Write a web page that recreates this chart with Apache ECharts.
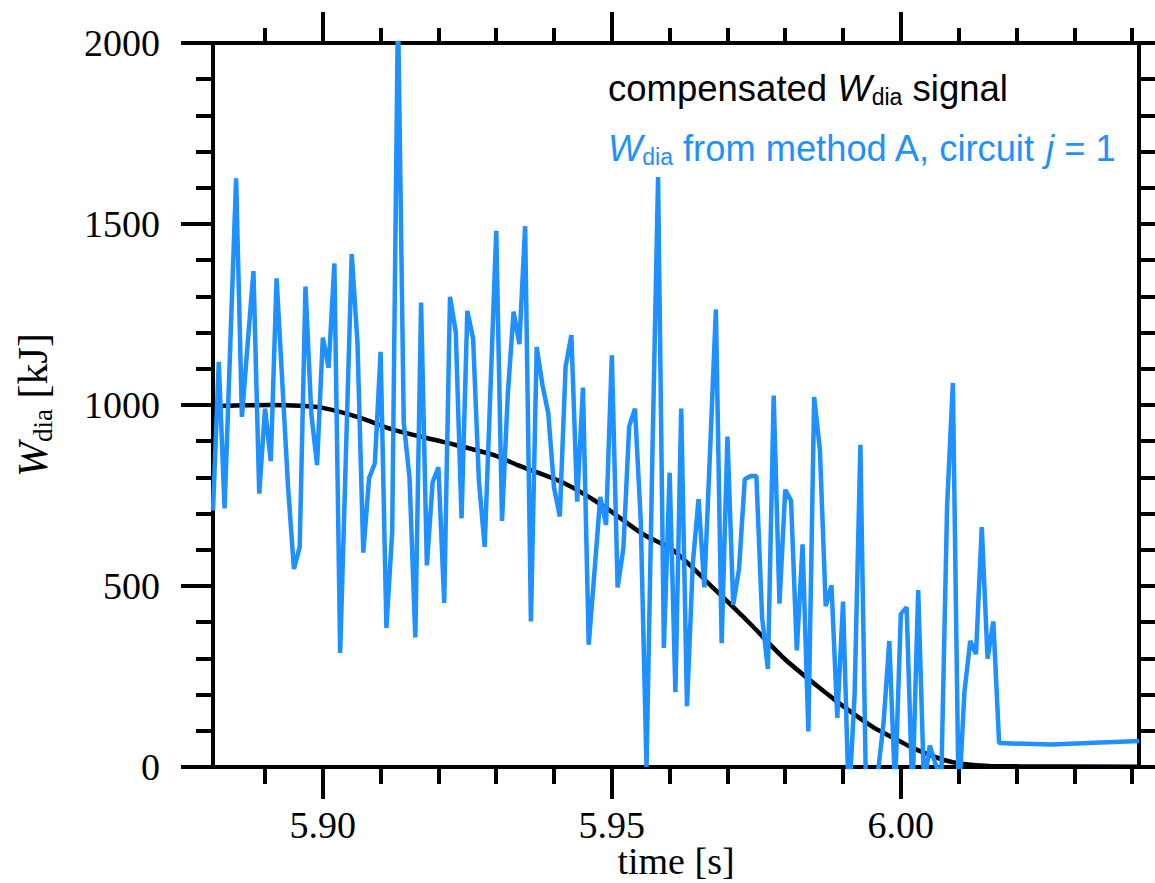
<!DOCTYPE html>
<html>
<head>
<meta charset="utf-8">
<script src="https://cdn.jsdelivr.net/npm/echarts@6/dist/echarts.min.js"></script>
<style>html,body{margin:0;padding:0;background:#fff;overflow:hidden}#c{width:1155px;height:883px}</style>
</head>
<body>
<div id="c"></div>
<script>
// ---- data ----
const xMajorTicks = [5.90, 5.95, 6.00];
const xMinorTicks = [5.89, 5.91, 5.92, 5.93, 5.94, 5.96, 5.97, 5.98, 5.99, 6.01, 6.02, 6.03, 6.04];
const yTicks = [0, 500, 1000, 1500, 2000];
const xRange = [5.881, 6.0412];
const xAxisTitle = 'time [s]';

// W_dia from method A, circuit j = 1 : sampled every 1 ms from 5.881 s
const blueStartTime = 5.881;
const blueStep = 0.001;
const blueValues = [
  708, 1119, 714, 1170, 1626, 967, 1170, 1370, 755, 990,
  845, 1350, 1060, 770, 547, 608, 1327, 977, 834, 1186,
  1103, 1391, 315, 866, 1417, 1170, 592, 798, 839, 1147,
  384, 650, 2100, 952, 798, 358, 1283, 557, 787, 828,
  453, 1299, 1202, 687, 1260, 1183, 791, 608, 1042, 1481,
  680, 1029, 1258, 1168, 1494, 402, 1160, 1055, 977, 772,
  692, 1106, 1193, 733, 1048, 338, 540, 746, 669, 1137,
  496, 605, 941, 990, 682, 0, 849, 1630, 329, 813,
  207, 990, 168, 560, 740, 496, 875, 1264, 342, 913,
  448, 547, 795, 804, 804, 412, 271, 1026, 451, 766,
  736, 322, 615, 98, 1022, 875, 444, 502, 136, 457,
  -100, 200, 890, -100, -80, -20, 120, 348, -60, 423,
  441, -80, 489, -50, 59, 8, -30, 720, 1061, -100,
  207, 348, 312, 663, 299, 402, 66
];
const blueTailTimes = [6.026, 6.0412];
const blueTailValues = [62, 72];

// compensated W_dia signal
const blackTimes = [5.881, 5.886, 5.891, 5.896, 5.900, 5.9064, 5.9121, 5.9208, 5.9295, 5.9337,
  5.9416, 5.9485, 5.9554, 5.9606, 5.9679, 5.9741, 5.9800, 5.9874, 5.9900, 5.9952,
  5.9995, 6.0021, 6.0073, 6.0108, 6.0151, 6.0203, 6.0412];
const blackValues = [997, 999, 1000, 998, 992, 965, 932, 898, 862, 834,
  785, 721, 643, 599, 489, 393, 297, 200, 168, 110,
  74, 52, 20, 8, 3, 2, 1];

// ---- build ----
const blueData = blueValues.map((v, k) => [+(blueStartTime + k * blueStep).toFixed(4), v])
  .concat(blueTailTimes.map((t, i) => [t, blueTailValues[i]]));
const blackData = blackTimes.map((t, i) => [t, blackValues[i]]);

const serif = '"Liberation Serif", "DejaVu Serif", serif';
const sans = '"Liberation Sans", Arial, sans-serif';
const BLUE = '#1E90FF';

function xAxisDef(pos, ticks, len, withLabels, showLine) {
  const a = {
    type: 'value', position: pos, min: xRange[0], max: xRange[1],
    axisLine: { show: showLine, onZero: false, lineStyle: { color: '#000', width: 4 } },
    axisTick: { show: true, inside: false, length: len, customValues: ticks,
      lineStyle: { color: '#000', width: 4 } },
    axisLabel: { show: false },
    splitLine: { show: false }, minorTick: { show: false }, minorSplitLine: { show: false }
  };
  if (withLabels) {
    a.axisLabel = { show: true, customValues: ticks, formatter: v => v.toFixed(2),
      fontFamily: serif, fontSize: 38, color: '#000', margin: 39 };
  }
  return a;
}
function yAxisDef(pos, withLabels) {
  const a = {
    type: 'value', position: pos, min: yTicks[0], max: yTicks[yTicks.length - 1],
    interval: yTicks[1] - yTicks[0],
    axisLine: { show: true, onZero: false, lineStyle: { color: '#000', width: 4 } },
    axisTick: { show: true, inside: false, length: 32, lineStyle: { color: '#000', width: 4 } },
    minorTick: { show: true, splitNumber: 5, length: 17, lineStyle: { color: '#000', width: 4 } },
    axisLabel: { show: false },
    splitLine: { show: false }, minorSplitLine: { show: false }
  };
  if (withLabels) {
    a.axisLabel = { show: true, fontFamily: serif, fontSize: 38, color: '#000', margin: 53,
      formatter: v => String(v) };
    a.name = '{w|W}{s|dia}{n| [kJ]}';
    a.nameLocation = 'middle';
    a.nameGap = 157;
    a.nameRotate = 90;
    a.nameTextStyle = { fontFamily: serif, fontSize: 42, color: '#000', lineHeight: 46,
      rich: {
        w: { fontFamily: serif, fontSize: 42, fontStyle: 'italic', color: '#000', lineHeight: 46 },
        s: { fontFamily: serif, fontSize: 27, color: '#000', lineHeight: 27, verticalAlign: 'bottom' },
        n: { fontFamily: serif, fontSize: 42, color: '#000', lineHeight: 46 }
      } };
  }
  return a;
}

const chart = echarts.init(document.getElementById('c'), null, { renderer: 'svg', width: 1155, height: 883 });
chart.setOption({
  backgroundColor: '#fff',
  animation: false,
  grid: { left: 213, width: 926, top: 43, height: 724, containLabel: false, outerBoundsMode: 'none' },
  xAxis: [
    xAxisDef('bottom', xMajorTicks, 32, true, true),
    xAxisDef('bottom', xMinorTicks, 17, false, false),
    xAxisDef('top', xMajorTicks, 31, false, true),
    xAxisDef('top', xMinorTicks, 15, false, false)
  ],
  yAxis: [yAxisDef('left', true), yAxisDef('right', false)],
  graphic: [
    { type: 'text', left: 608, top: 68, z: 100,
      style: { text: 'compensated {i|W}{s|dia} signal', fill: '#000', fontFamily: sans, fontSize: 36.5,
        lineHeight: 40,
        rich: {
          i: { fontFamily: sans, fontSize: 36.5, fontStyle: 'italic', fill: '#000', lineHeight: 40 },
          s: { fontFamily: sans, fontSize: 23, fill: '#000', lineHeight: 23, verticalAlign: 'bottom' }
        } } },
    { type: 'text', left: 608, top: 128, z: 100,
      style: { text: '{i|W}{s|dia} from method A, circuit {i|j} = 1', fill: BLUE, fontFamily: sans, fontSize: 36.3,
        lineHeight: 40,
        rich: {
          i: { fontFamily: sans, fontSize: 36.3, fontStyle: 'italic', fill: BLUE, lineHeight: 40 },
          s: { fontFamily: sans, fontSize: 23, fill: BLUE, lineHeight: 23, verticalAlign: 'bottom' }
        } } },
    { type: 'text', x: 676, y: 861, z: 100,
      style: { text: xAxisTitle, fill: '#000', fontFamily: serif, fontSize: 38, lineHeight: 38,
        textAlign: 'center', textVerticalAlign: 'middle', align: 'center', verticalAlign: 'middle' } }
  ],
  series: [
    { name: 'compensated W_dia signal', type: 'line', data: blackData, xAxisIndex: 0, yAxisIndex: 0,
      showSymbol: false, smooth: 0.3, clip: true, z: 2,
      lineStyle: { color: '#000', width: 4.5 } },
    { name: 'W_dia from method A, circuit j = 1', type: 'line', data: blueData, xAxisIndex: 0, yAxisIndex: 0,
      showSymbol: false, clip: true, z: 3,
      lineStyle: { color: BLUE, width: 4.5 } }
  ]
});
</script>
</body>
</html>
